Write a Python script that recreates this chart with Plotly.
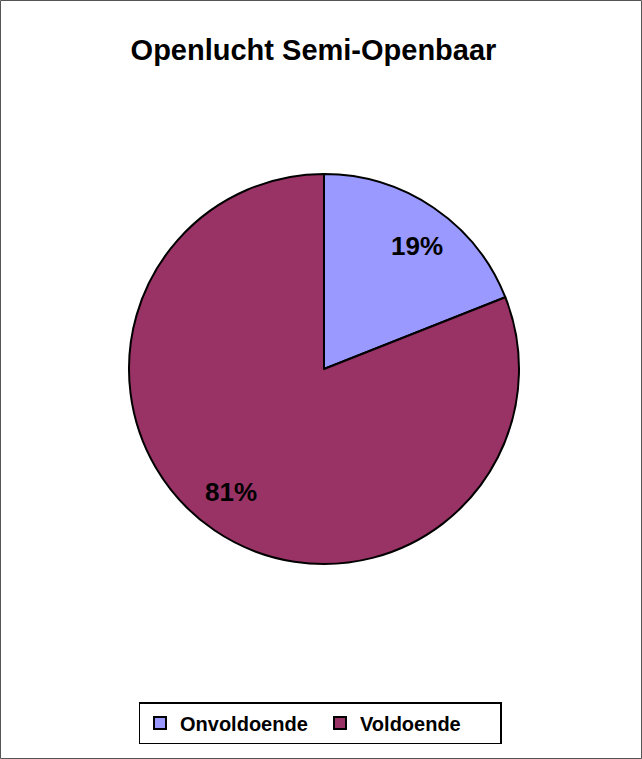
import math
import plotly.graph_objects as go

categories = ["Onvoldoende", "Voldoende"]
values = [19, 81]
colors = ["#9999FF", "#993366"]
title_text = "Openlucht Semi-Openbaar"

W, H = 642, 759
cx_px, cy_px, r_px = 324, 369, 195
FONT = "Liberation Sans, Arial, sans-serif"

fig = go.Figure()
fig.add_trace(go.Pie(
    labels=categories,
    values=values,
    sort=False,
    direction="clockwise",
    rotation=0,
    marker=dict(colors=colors, line=dict(color="black", width=2)),
    textinfo="none",
    hoverinfo="label+percent",
    domain=dict(x=[(cx_px - r_px) / W, (cx_px + r_px) / W],
                y=[1 - (cy_px + r_px) / H, 1 - (cy_px - r_px) / H]),
))

# percentage labels placed along slice mid-angles
total = sum(values)
start = 0.0
annotations = []
for v in values:
    frac = v / total
    mid = (start + frac / 2) * 2 * math.pi + math.radians(3)
    start += frac
    d = 0.79 * r_px
    ax = (cx_px + d * math.sin(mid)) / W
    ay = 1 - (cy_px - d * math.cos(mid)) / H
    annotations.append(dict(
        x=ax, y=ay, xref="paper", yref="paper",
        text=f"{round(frac * 100)}%", showarrow=False,
        font=dict(family=FONT, size=26, color="black", weight="bold"),
        xanchor="center", yanchor="middle",
    ))

fig.update_layout(
    width=W, height=H,
    margin=dict(l=0, r=0, t=0, b=0),
    paper_bgcolor="white",
    plot_bgcolor="white",
    font=dict(family=FONT, color="black"),
    title=dict(text=title_text, x=313.5 / W, xanchor="center",
               y=1 - 50 / H, yanchor="middle",
               font=dict(size=29, family=FONT, weight="bold")),
    showlegend=True,
    legend=dict(orientation="h", x=320 / W, xanchor="center",
                y=1 - 723 / H, yanchor="middle",
                bordercolor="black", borderwidth=1.5,
                font=dict(size=20, family=FONT, weight="bold"),
                itemwidth=30, entrywidth=135,
                traceorder="normal"),
    annotations=annotations,
    shapes=[dict(type="rect", xref="paper", yref="paper",
                 x0=0.5 / W, x1=1 - 0.5 / W, y0=0.5 / H, y1=1 - 0.5 / H,
                 line=dict(color="#555555", width=1))],
)

fig.write_html("out.html",
               config={"displayModeBar": False},
               post_script="document.body.style.margin='0';document.body.style.overflow='hidden';")
